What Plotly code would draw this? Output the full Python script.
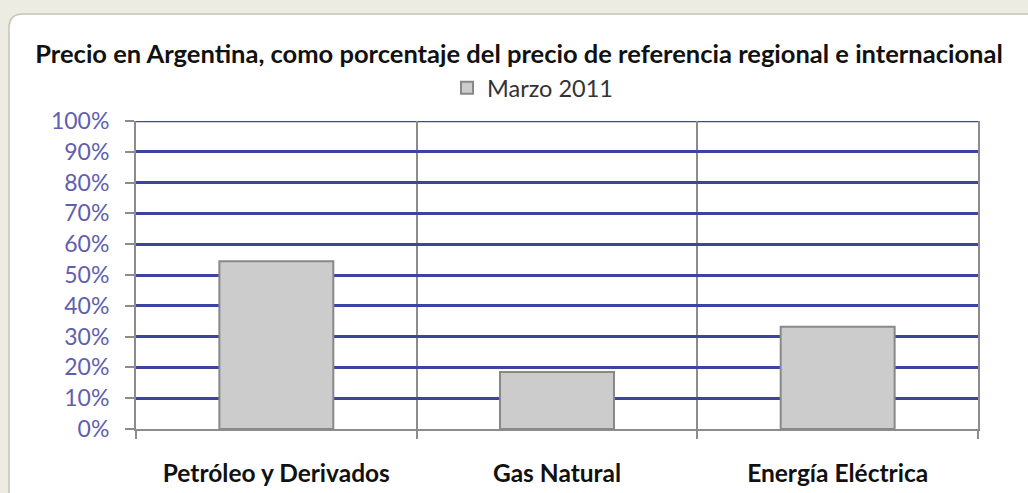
import plotly.graph_objects as go

categories = ["Petróleo y Derivados", "Gas Natural", "Energía Eléctrica"]
values = [0.545, 0.185, 0.332]
series_name = "Marzo 2011"
title_text = "Precio en Argentina, como porcentaje del precio de referencia regional e internacional"

W, H = 1028, 493
L, R, T, B = 136, 50, 121, 64
pw, ph = W - L - R, H - T - B

def px_x(px):
    return (px - L) / pw

def px_y(py):
    return (H - B - py) / ph

fig = go.Figure()
fig.add_trace(go.Bar(
    x=categories, y=values, name=series_name,
    marker=dict(color="#cccccc", line=dict(color="#888888", width=2)),
    showlegend=True,
))

# rounded white chart area on beige background
x0, x1 = px_x(9), px_x(1045)
yt, yb = px_y(14), px_y(505)
rx, ry = 14 / pw, 14 / ph
path = (f"M {x0},{yb} L {x0},{yt-ry} Q {x0},{yt} {x0+rx},{yt} "
        f"L {x1},{yt} L {x1},{yb} Z")
fig.add_shape(type="path", path=path, xref="paper", yref="paper",
              fillcolor="white", line=dict(color="#c4c4b8", width=1.5), layer="below")

# top gridline at 100% (plotly culls gridlines at the range edge)
fig.add_shape(type="line", xref="paper", yref="y", x0=0, x1=1, y0=1, y1=1,
              line=dict(color="#3c44a0", width=2.5), layer="below")
# right boundary tick below the axis
fig.add_shape(type="line", xref="paper", yref="paper", x0=1, x1=1,
              y0=0, y1=-8 / ph, line=dict(color="#8c8c8c", width=2))

fig.update_layout(
    width=W, height=H,
    margin=dict(l=L, r=R, t=T, b=B),
    paper_bgcolor="#ecece2",
    plot_bgcolor="rgba(0,0,0,0)",
    bargap=0.594,
    font=dict(family="Lato, Open Sans, sans-serif"),
    title=dict(text=title_text, x=519 / W, xanchor="center", xref="container",
               y=1 - 54 / H, yanchor="middle", yref="container",
               font=dict(size=25.5, color="#111111", family="Lato", weight="bold")),
    legend=dict(orientation="h", x=px_x(447), xanchor="left", y=px_y(88), yanchor="middle",
                bgcolor="rgba(0,0,0,0)",
                font=dict(size=23.5, color="#333333", family="Lato")),
    xaxis=dict(
        automargin=False,
        tickson="boundaries", showgrid=True, gridcolor="#8c8c8c", gridwidth=2,
        showline=True, linecolor="#8c8c8c", linewidth=2,
        ticks="outside", ticklen=8, tickwidth=2, tickcolor="#8c8c8c",
        tickfont=dict(size=24.5, color="#111111", family="Lato", weight="bold"),
        ticklabelstandoff=22,
    ),
    yaxis=dict(
        automargin=False,
        range=[0, 1], dtick=0.1, tickformat=".0%",
        showgrid=True, gridcolor="#3c44a0", gridwidth=2.5,
        showline=True, linecolor="#8c8c8c", linewidth=2, mirror=True,
        ticks="outside", ticklen=9, tickwidth=2, tickcolor="#8c8c8c",
        tickfont=dict(size=23, color="#5f5fae", family="Lato"),
        ticklabelstandoff=11, zeroline=False,
    ),
)

fig.write_html("out.html", config={"displayModeBar": False},
               post_script="document.body.style.margin='0';document.body.style.background='#ecece2';")
